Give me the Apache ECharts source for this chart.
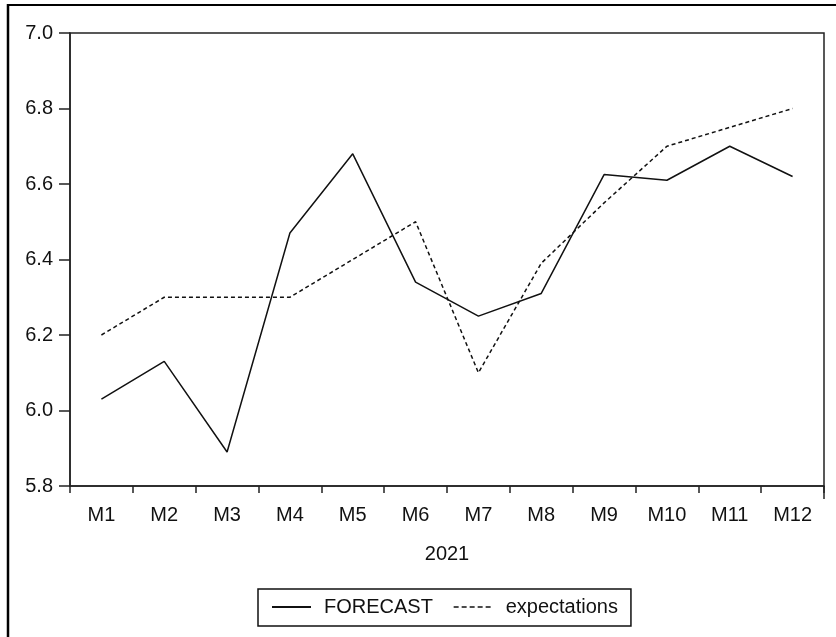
<!DOCTYPE html>
<html>
<head>
<meta charset="utf-8">
<style>
  html, body { margin: 0; padding: 0; background: #fff; }
  #chart { width: 836px; height: 637px; }
</style>
<script src="https://cdn.jsdelivr.net/npm/echarts@6/dist/echarts.min.js"></script>
</head>
<body>
<div id="chart"></div>
<script>
// Monthly categories for 2021
const months = ['M1', 'M2', 'M3', 'M4', 'M5', 'M6', 'M7', 'M8', 'M9', 'M10', 'M11', 'M12'];
const yearLabel = '2021';

// Model forecast vs. survey expectations
const forecast = [6.03, 6.13, 5.89, 6.47, 6.68, 6.34, 6.25, 6.31, 6.625, 6.61, 6.70, 6.62];
const expectations = [6.2, 6.3, 6.3, 6.3, 6.4, 6.5, 6.1, 6.39, 6.55, 6.7, 6.75, 6.8];

// Value axis range and step
const yMin = 5.8;
const yMax = 7.0;
const yStep = 0.2;

const FONT = 'Arial, "Liberation Sans", sans-serif';
const INK = '#111';

const chart = echarts.init(document.getElementById('chart'), null, { renderer: 'canvas' });

const gridLeft = 70, gridTop = 33, gridRight = 12, gridBottom = 151;

chart.setOption({
  animation: false,
  backgroundColor: '#fff',
  grid: {
    left: gridLeft, top: gridTop, right: gridRight, bottom: gridBottom,
    show: true, borderColor: '#222', borderWidth: 1.5, backgroundColor: 'transparent',
    containLabel: false
  },
  xAxis: {
    type: 'category',
    data: months,
    boundaryGap: true,
    name: yearLabel,
    nameLocation: 'middle',
    nameGap: 58,
    nameTextStyle: { fontFamily: FONT, fontSize: 20, color: INK },
    axisLine: { show: true, lineStyle: { color: '#222', width: 1.5 } },
    axisTick: { show: true, alignWithLabel: false, length: 7, lineStyle: { color: '#222', width: 1.5 } },
    axisLabel: { fontFamily: FONT, fontSize: 20, color: INK, margin: 19, interval: 0 },
    splitLine: { show: false }
  },
  yAxis: {
    type: 'value',
    min: yMin,
    max: yMax,
    interval: yStep,
    axisLine: { show: true, lineStyle: { color: '#222', width: 1.5 } },
    axisTick: { show: true, inside: false, length: 11, lineStyle: { color: '#222', width: 1.5 } },
    axisLabel: {
      fontFamily: FONT, fontSize: 20, color: INK, margin: 17,
      formatter: v => v.toFixed(1)
    },
    splitLine: { show: false }
  },
  legend: {
    left: 258,
    top: 589,
    orient: 'horizontal',
    padding: [8, 13, 9, 13],
    borderColor: '#111',
    borderWidth: 1.5,
    itemWidth: 39,
    itemHeight: 10,
    itemGap: 20,
    selectedMode: false,
    itemStyle: { opacity: 0, borderWidth: 0 },
    textStyle: { fontFamily: FONT, fontSize: 20, color: INK, padding: [0, 0, 0, 8] },
    data: [
      { name: 'FORECAST' },
      { name: 'expectations', lineStyle: { type: [5, 3], width: 1.5 } }
    ]
  },
  series: [
    {
      name: 'FORECAST',
      type: 'line',
      data: forecast,
      symbol: 'none',
      lineStyle: { color: INK, width: 1.5, type: 'solid' },
      itemStyle: { color: INK }
    },
    {
      name: 'expectations',
      type: 'line',
      data: expectations,
      symbol: 'none',
      lineStyle: { color: INK, width: 1.5, type: [4, 3] },
      itemStyle: { color: INK }
    }
  ],
  graphic: [
    // Outer frame edges
    { type: 'line', shape: { x1: 8, y1: 4, x2: 8, y2: 637 }, style: { stroke: '#000', lineWidth: 2.5 }, silent: true },
    { type: 'line', shape: { x1: 8, y1: 5, x2: 836, y2: 5 }, style: { stroke: '#000', lineWidth: 2 }, silent: true },
    // Longer closing tick at the end of the year
    { type: 'line', shape: { x1: 836 - gridRight, y1: 637 - gridBottom, x2: 836 - gridRight, y2: 637 - gridBottom + 13 }, style: { stroke: '#222', lineWidth: 1.5 }, silent: true }
  ]
});
</script>
</body>
</html>
